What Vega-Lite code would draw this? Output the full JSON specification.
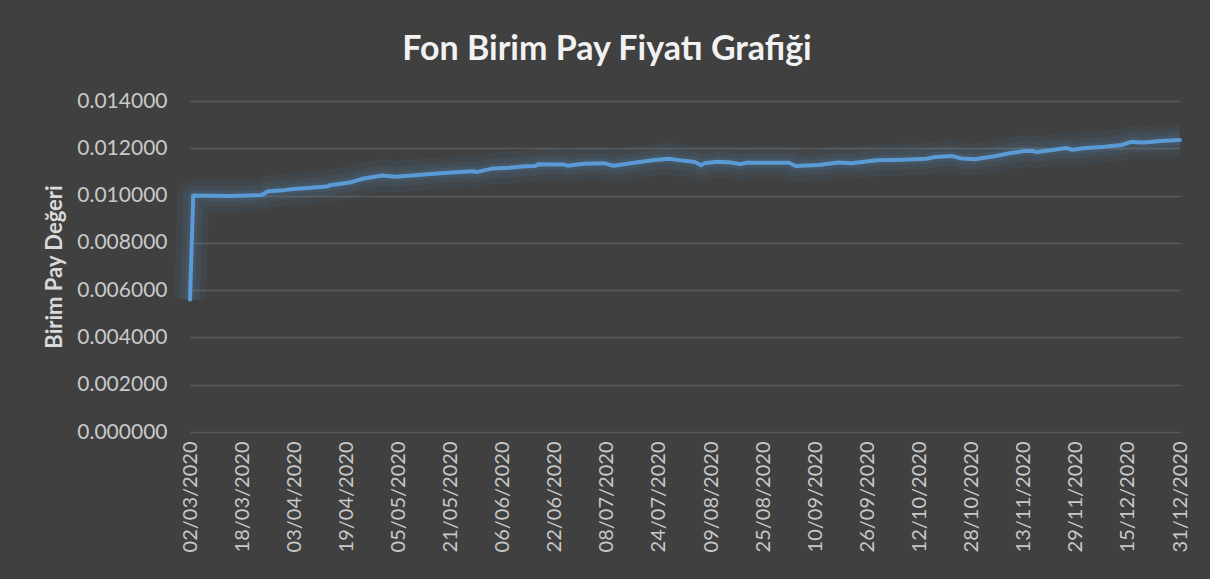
{
  "$schema": "https://vega.github.io/schema/vega-lite/v6.json",
  "width": 990,
  "height": 331,
  "autosize": {"type": "none"},
  "padding": {"left": 190, "top": 101, "right": 30, "bottom": 147},
  "background": "#404040",
  "title": {
    "text": "Fon Birim Pay Fiyatı Grafiği",
    "font": "Lato",
    "fontSize": 34,
    "fontWeight": "bold",
    "color": "#F2F2F2",
    "anchor": "middle",
    "offset": 23,
    "dx": -78
  },
  "config": {
    "view": {"stroke": null},
    "font": "Lato"
  },
  "data": {
    "values": [
      {"date": "2020-03-02", "value": 0.0056},
      {"date": "2020-03-03", "value": 0.01000},
      {"date": "2020-03-14", "value": 0.00998},
      {"date": "2020-03-24", "value": 0.01002},
      {"date": "2020-03-26", "value": 0.01018},
      {"date": "2020-03-31", "value": 0.01023},
      {"date": "2020-04-02", "value": 0.01027},
      {"date": "2020-04-08", "value": 0.01033},
      {"date": "2020-04-13", "value": 0.01038},
      {"date": "2020-04-14", "value": 0.01044},
      {"date": "2020-04-20", "value": 0.01055},
      {"date": "2020-04-24", "value": 0.01071},
      {"date": "2020-04-30", "value": 0.01085},
      {"date": "2020-05-04", "value": 0.01080},
      {"date": "2020-05-08", "value": 0.01084},
      {"date": "2020-05-20", "value": 0.01097},
      {"date": "2020-05-28", "value": 0.01103},
      {"date": "2020-05-29", "value": 0.01099},
      {"date": "2020-06-03", "value": 0.01115},
      {"date": "2020-06-08", "value": 0.01118},
      {"date": "2020-06-12", "value": 0.01123},
      {"date": "2020-06-16", "value": 0.01125},
      {"date": "2020-06-17", "value": 0.01132},
      {"date": "2020-06-25", "value": 0.01131},
      {"date": "2020-06-26", "value": 0.01126},
      {"date": "2020-07-01", "value": 0.01135},
      {"date": "2020-07-07", "value": 0.01137},
      {"date": "2020-07-10", "value": 0.01126},
      {"date": "2020-07-17", "value": 0.01140},
      {"date": "2020-07-22", "value": 0.01149},
      {"date": "2020-07-27", "value": 0.01156},
      {"date": "2020-07-29", "value": 0.01152},
      {"date": "2020-08-04", "value": 0.01142},
      {"date": "2020-08-06", "value": 0.01128},
      {"date": "2020-08-07", "value": 0.01137},
      {"date": "2020-08-11", "value": 0.01143},
      {"date": "2020-08-15", "value": 0.01140},
      {"date": "2020-08-18", "value": 0.01133},
      {"date": "2020-08-20", "value": 0.01139},
      {"date": "2020-08-28", "value": 0.01139},
      {"date": "2020-09-02", "value": 0.01139},
      {"date": "2020-09-04", "value": 0.01125},
      {"date": "2020-09-11", "value": 0.01129},
      {"date": "2020-09-17", "value": 0.01140},
      {"date": "2020-09-21", "value": 0.01137},
      {"date": "2020-09-29", "value": 0.01149},
      {"date": "2020-10-07", "value": 0.01152},
      {"date": "2020-10-14", "value": 0.01156},
      {"date": "2020-10-17", "value": 0.01163},
      {"date": "2020-10-22", "value": 0.01167},
      {"date": "2020-10-25", "value": 0.01157},
      {"date": "2020-10-29", "value": 0.01154},
      {"date": "2020-11-01", "value": 0.01160},
      {"date": "2020-11-04", "value": 0.01166},
      {"date": "2020-11-09", "value": 0.01180},
      {"date": "2020-11-13", "value": 0.01188},
      {"date": "2020-11-16", "value": 0.01188},
      {"date": "2020-11-17", "value": 0.01184},
      {"date": "2020-11-22", "value": 0.01193},
      {"date": "2020-11-26", "value": 0.01201},
      {"date": "2020-11-28", "value": 0.01194},
      {"date": "2020-12-02", "value": 0.01201},
      {"date": "2020-12-08", "value": 0.01207},
      {"date": "2020-12-10", "value": 0.01210},
      {"date": "2020-12-13", "value": 0.01214},
      {"date": "2020-12-16", "value": 0.01227},
      {"date": "2020-12-20", "value": 0.01224},
      {"date": "2020-12-25", "value": 0.01231},
      {"date": "2020-12-31", "value": 0.01235}
    ]
  },
  "encoding": {
    "x": {
      "field": "date",
      "type": "temporal",
      "scale": {
        "type": "utc",
        "domain": [{"year": 2020, "month": 3, "date": 2, "utc": true}, {"year": 2020, "month": 12, "date": 31, "utc": true}]
      },
      "axis": {
        "title": null,
        "labelExpr": "utcFormat(datum.value, '%d/%m/%Y')",
        "values": [
          {"year": 2020, "month": 3, "date": 2, "utc": true},
          {"year": 2020, "month": 3, "date": 18, "utc": true},
          {"year": 2020, "month": 4, "date": 3, "utc": true},
          {"year": 2020, "month": 4, "date": 19, "utc": true},
          {"year": 2020, "month": 5, "date": 5, "utc": true},
          {"year": 2020, "month": 5, "date": 21, "utc": true},
          {"year": 2020, "month": 6, "date": 6, "utc": true},
          {"year": 2020, "month": 6, "date": 22, "utc": true},
          {"year": 2020, "month": 7, "date": 8, "utc": true},
          {"year": 2020, "month": 7, "date": 24, "utc": true},
          {"year": 2020, "month": 8, "date": 9, "utc": true},
          {"year": 2020, "month": 8, "date": 25, "utc": true},
          {"year": 2020, "month": 9, "date": 10, "utc": true},
          {"year": 2020, "month": 9, "date": 26, "utc": true},
          {"year": 2020, "month": 10, "date": 12, "utc": true},
          {"year": 2020, "month": 10, "date": 28, "utc": true},
          {"year": 2020, "month": 11, "date": 13, "utc": true},
          {"year": 2020, "month": 11, "date": 29, "utc": true},
          {"year": 2020, "month": 12, "date": 15, "utc": true},
          {"year": 2020, "month": 12, "date": 31, "utc": true}
        ],
        "labelAngle": -90,
        "labelFont": "Lato",
        "labelFontSize": 20,
        "labelColor": "#C9C9C9",
        "labelPadding": 9,
        "ticks": false,
        "domain": false,
        "grid": false,
        "labelOverlap": false,
        "labelBound": false,
        "labelFlush": false
      }
    },
    "y": {
      "field": "value",
      "type": "quantitative",
      "scale": {"domain": [0, 0.014], "nice": false, "zero": true},
      "axis": {
        "title": "Birim Pay Değeri",
        "titleFont": "Lato",
        "titleFontSize": 22,
        "titleFontWeight": "bold",
        "titleColor": "#D9D9D9",
        "titlePadding": 10,
        "format": ".6f",
        "values": [0, 0.002, 0.004, 0.006, 0.008, 0.010, 0.012, 0.014],
        "labelFont": "Lato",
        "labelFontSize": 21,
        "labelColor": "#C9C9C9",
        "labelPadding": 23,
        "ticks": false,
        "domain": false,
        "grid": true,
        "gridColor": "#5A5A5A",
        "gridWidth": 1.5
      }
    }
  },
  "layer": [
    {"mark": {"type": "line", "color": "#5B9BD5", "strokeWidth": 32, "opacity": 0.07, "strokeJoin": "round", "strokeCap": "butt"}},
    {"mark": {"type": "line", "color": "#5B9BD5", "strokeWidth": 20, "opacity": 0.09, "strokeJoin": "round", "strokeCap": "butt"}},
    {"mark": {"type": "line", "color": "#5B9BD5", "strokeWidth": 10, "opacity": 0.11, "strokeJoin": "round", "strokeCap": "butt"}},
    {"mark": {"type": "line", "color": "#5B9BD5", "strokeWidth": 4, "strokeJoin": "round", "strokeCap": "round"}}
  ]
}
